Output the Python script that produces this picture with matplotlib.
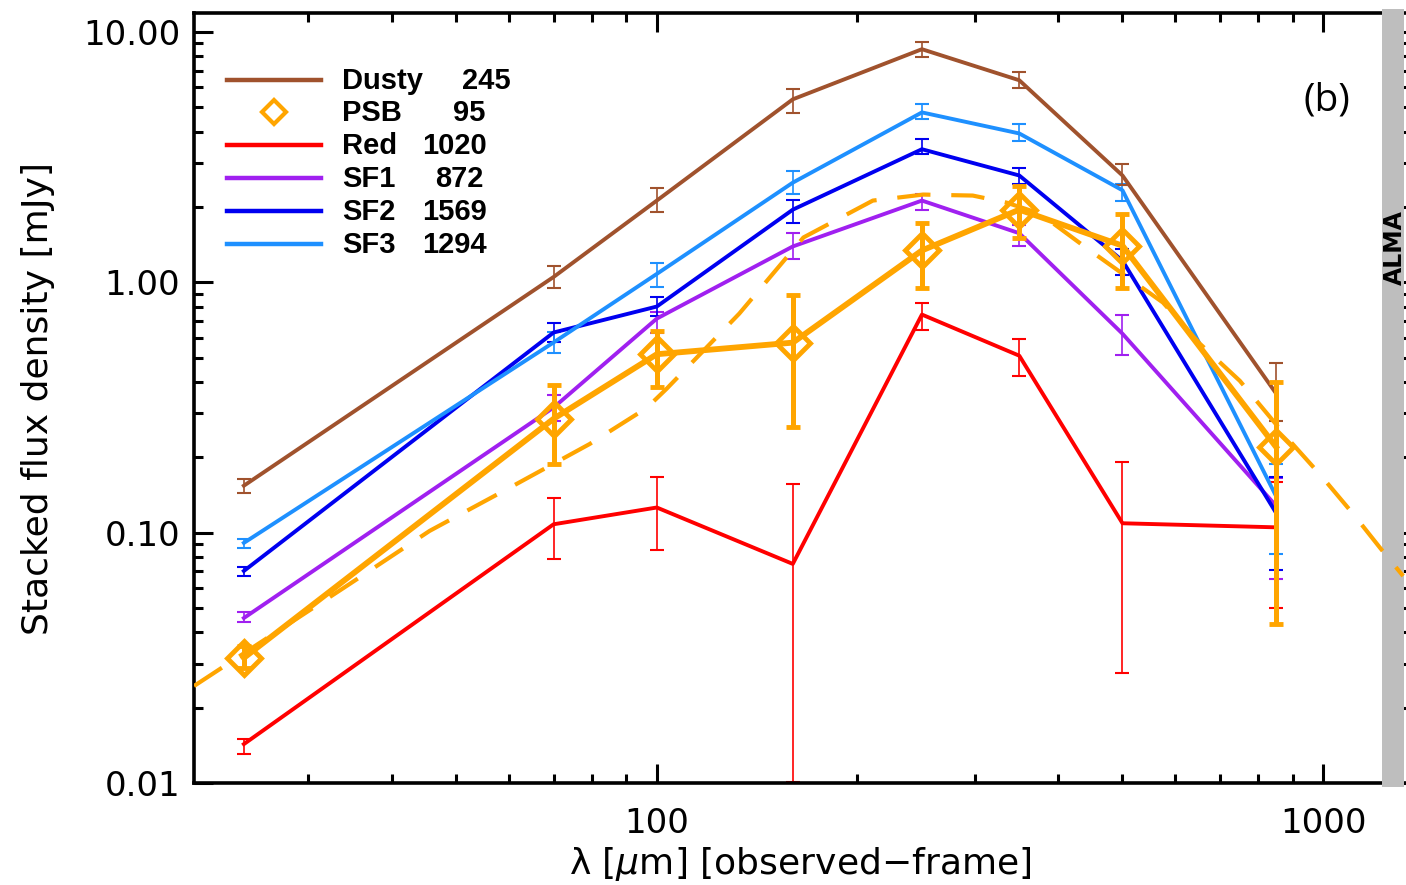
import matplotlib
matplotlib.use("Agg")
import matplotlib.pyplot as plt
from matplotlib.lines import Line2D
from matplotlib.ticker import LogLocator, FixedLocator, FuncFormatter, NullFormatter

# ---------------- data ----------------
wavelength = [24, 70, 100, 160, 250, 350, 500, 850]

dusty    = [0.154, 1.05, 2.12, 5.38, 8.53, 6.41, 2.67, 0.36]
dusty_hi = [0.164, 1.16, 2.37, 5.90, 9.10, 6.90, 2.96, 0.474]
dusty_lo = [0.144, 0.95, 1.90, 4.73, 7.92, 5.95, 2.44, 0.28]

sf3    = [0.091, 0.575, 1.08, 2.50, 4.77, 3.93, 2.33, 0.14]
sf3_hi = [0.094, 0.631, 1.19, 2.77, 5.14, 4.27, 2.46, 0.188]
sf3_lo = [0.087, 0.520, 0.96, 2.26, 4.48, 3.65, 2.12, 0.082]

sf2    = [0.0703, 0.63, 0.80, 1.95, 3.40, 2.67, 1.22, 0.12]
sf2_hi = [0.073, 0.686, 0.87, 2.14, 3.72, 2.87, 1.36, 0.167]
sf2_lo = [0.067, 0.58, 0.73, 1.73, 3.25, 2.48, 1.07, 0.071]

sf1    = [0.0456, 0.316, 0.716, 1.39, 2.12, 1.57, 0.623, 0.128]
sf1_hi = [0.048, 0.356, 0.76, 1.57, 2.26, 1.70, 0.741, 0.165]
sf1_lo = [0.044, 0.28, 0.63, 1.24, 1.95, 1.40, 0.514, 0.065]

red    = [0.0143, 0.108, 0.126, 0.075, 0.743, 0.509, 0.109, 0.105]
red_hi = [0.0150, 0.138, 0.167, 0.157, 0.825, 0.594, 0.192, 0.160]
red_lo = [0.0131, 0.0785, 0.085, 0.0101, 0.647, 0.421, 0.0275, 0.050]

psb    = [0.0316, 0.285, 0.516, 0.574, 1.34, 1.95, 1.40, 0.220]
psb_hi = [0.0352, 0.390, 0.641, 0.893, 1.72, 2.42, 1.88, 0.398]
psb_lo = [0.0288, 0.188, 0.383, 0.265, 0.953, 1.50, 0.952, 0.043]

model_wl   = [20.2, 34.6, 45.6, 60.1, 79.3, 96.6, 103.5, 133, 166, 211, 251, 298,
              335, 376, 440, 575, 653, 750, 891, 989, 1109, 1218, 1319]
model_flux = [0.0244, 0.0624, 0.1016, 0.151, 0.226, 0.315, 0.376, 0.75, 1.51, 2.12,
              2.24, 2.22, 2.08, 1.88, 1.38, 0.83, 0.569, 0.404, 0.233, 0.171, 0.119,
              0.0869, 0.0671]

legend_names  = ["Dusty", "PSB", "Red", "SF1", "SF2", "SF3"]
legend_counts = ["245", "95", "1020", "872", "1569", "1294"]

alma_band = [1226, 1323]

# ---------------- style ----------------
C_BROWN = "#A0522D"
C_LBLUE = "#1E90FF"
C_BLUE = "#0000F0"
C_PURPLE = "#A020F0"
C_RED = "#FF0000"
C_ORANGE = "#FFA500"
C_GRAY = "#BEBEBE"

W, H = 1406, 885
fig = plt.figure(figsize=(W / 100, H / 100), dpi=100)
L, R, T, B = 194, 1406, 13, 783
ax = fig.add_axes([L / W, 1 - B / H, (R - L) / W, (B - T) / H])
ax.set_xscale("log")
ax.set_yscale("log")
ax.set_xlim(20.2, 1332)
ax.set_ylim(0.01, 11.9)


def px(x, y):
    return (x / W, 1 - y / H)


thin_series = [
    (red, red_lo, red_hi, C_RED),
    (sf1, sf1_lo, sf1_hi, C_PURPLE),
    (sf2, sf2_lo, sf2_hi, C_BLUE),
    (sf3, sf3_lo, sf3_hi, C_LBLUE),
    (dusty, dusty_lo, dusty_hi, C_BROWN),
]
for k, (v, lo, hi, c) in enumerate(thin_series):
    yerr = [[a - b for a, b in zip(v, lo)], [b - a for a, b in zip(v, hi)]]
    ax.errorbar(wavelength, v, yerr=yerr, color=c, lw=2.8, elinewidth=1.2,
                capsize=5, capthick=1.5, zorder=2 + 0.05 * k)

yerr = [[a - b for a, b in zip(psb, psb_lo)], [b - a for a, b in zip(psb, psb_hi)]]
ax.errorbar(wavelength, psb, yerr=yerr, color=C_ORANGE, lw=4.2, elinewidth=3.6,
            capsize=5, capthick=3.6, marker="D", ms=17, mfc="none",
            mec=C_ORANGE, mew=3.5, zorder=2.4)

ax.plot(model_wl, model_flux, color=C_ORANGE, lw=3.0, dashes=(8, 5), zorder=4)

ax.axvspan(alma_band[0], alma_band[1], ymin=-0.005, ymax=1.005, color=C_GRAY,
           lw=0, zorder=3, clip_on=False)

# ---------------- axes ----------------
for s in ["left", "bottom", "top"]:
    ax.spines[s].set_linewidth(2.6)
ax.spines["right"].set_visible(False)

ax.xaxis.set_major_locator(FixedLocator([100, 1000]))
ax.xaxis.set_minor_locator(LogLocator(base=10, subs=range(2, 10)))
ax.xaxis.set_major_formatter(FuncFormatter(lambda v, p: f"{v:.0f}"))
ax.xaxis.set_minor_formatter(NullFormatter())
ax.yaxis.set_major_locator(FixedLocator([0.01, 0.1, 1, 10]))
ax.yaxis.set_minor_locator(LogLocator(base=10, subs=range(2, 10)))
ax.yaxis.set_major_formatter(FuncFormatter(lambda v, p: f"{v:.2f}"))
ax.yaxis.set_minor_formatter(NullFormatter())

ax.tick_params(which="both", direction="in", top=True, right=True, width=2.2,
               labelsize=24.5)
ax.tick_params(which="major", length=14)
ax.tick_params(which="minor", length=6.5)
ax.tick_params(axis="y", pad=10)
ax.tick_params(axis="x", pad=17)

plt.rcParams["mathtext.fontset"] = "dejavusans"
ax.set_xlabel(r"λ [$\mu$m] [observed−frame]", fontsize=26, labelpad=4)
ax.set_ylabel("Stacked flux density [mJy]", fontsize=26, labelpad=20)

# ---------------- legend ----------------
legend_y = [80, 112, 145, 178, 211, 244]
legend_colors = [C_BROWN, C_ORANGE, C_RED, C_PURPLE, C_BLUE, C_LBLUE]
count_right = [511, 485, 487, 484, 487, 487]
for i, (name, cnt) in enumerate(zip(legend_names, legend_counts)):
    yy = legend_y[i]
    if name == "PSB":
        x0, y0 = px(274, yy)
        fig.add_artist(Line2D([x0], [y0], marker="D", ms=12, mfc="none",
                              mec=C_ORANGE, mew=3, transform=fig.transFigure))
    else:
        x0, y0 = px(227, yy)
        x1, _ = px(321, yy)
        fig.add_artist(Line2D([x0, x1], [y0, y0], color=legend_colors[i], lw=3.2,
                              transform=fig.transFigure))
    fig.text(*px(342, yy + 1), name, fontsize=21, fontweight="bold",
             family="Liberation Sans", ha="left", va="center")
    fig.text(*px(count_right[i], yy + 1), cnt, fontsize=21, fontweight="bold",
             family="Liberation Sans", ha="right", va="center")

fig.text(*px(1327, 100), "(b)", fontsize=28, family="Open Sans",
         ha="center", va="center")
fig.text(*px(1395, 248), "ALMA", fontsize=17, fontweight="bold", rotation=90,
         ha="center", va="center", zorder=6)

fig.savefig("out.png", dpi=100)
